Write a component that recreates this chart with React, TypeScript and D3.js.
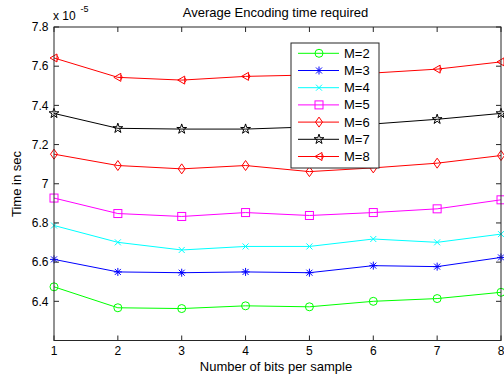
import React from "react";
import * as d3 from "d3";

const bits = [1, 2, 3, 4, 5, 6, 7, 8];
const seriesNames = ["M=2", "M=3", "M=4", "M=5", "M=6", "M=7", "M=8"];
const m2 = [6.474, 6.367, 6.363, 6.377, 6.372, 6.4, 6.414, 6.446];
const m3 = [6.614, 6.55, 6.546, 6.55, 6.546, 6.582, 6.577, 6.624];
const m4 = [6.787, 6.701, 6.662, 6.68, 6.68, 6.718, 6.701, 6.743];
const m5 = [6.927, 6.848, 6.833, 6.853, 6.838, 6.853, 6.872, 6.918];
const m6 = [7.151, 7.093, 7.076, 7.093, 7.062, 7.081, 7.105, 7.144];
const m7 = [7.359, 7.283, 7.279, 7.279, 7.29, 7.305, 7.329, 7.359];
const m8 = [7.642, 7.543, 7.529, 7.548, 7.555, 7.565, 7.585, 7.622];
const yTicks = [6.4, 6.6, 6.8, 7, 7.2, 7.4, 7.6, 7.8];
const colors = ["#00ff00", "#0000ff", "#00ffff", "#ff00ff", "#ff0000", "#000000", "#ff0000"];
const markers = ["circle", "asterisk", "x", "square", "diamond", "star", "tri"];
const allSeries = [m2, m3, m4, m5, m6, m7, m8];

const L = 54, R = 501, T = 27, B = 340.5;
const FONT = "Liberation Sans, Arial, sans-serif";

function Marker({ type, x, y, color }: { type: string; x: number; y: number; color: string }) {
  const sw = 1;
  if (type === "circle") return <circle cx={x} cy={y} r={4} fill="none" stroke={color} strokeWidth={sw} />;
  if (type === "square") return <rect x={x - 4} y={y - 4} width={8} height={8} fill="none" stroke={color} strokeWidth={sw} />;
  if (type === "diamond")
    return <path d={`M${x},${y - 5}L${x + 3.5},${y}L${x},${y + 5}L${x - 3.5},${y}Z`} fill="none" stroke={color} strokeWidth={sw} />;
  if (type === "x")
    return <path d={`M${x - 3},${y - 3}L${x + 3},${y + 3}M${x - 3},${y + 3}L${x + 3},${y - 3}`} stroke={color} strokeWidth={sw} />;
  if (type === "asterisk")
    return (
      <path
        d={`M${x},${y - 4}L${x},${y + 4}M${x - 4},${y}L${x + 4},${y}M${x - 3},${y - 3}L${x + 3},${y + 3}M${x - 3},${y + 3}L${x + 3},${y - 3}`}
        stroke={color}
        strokeWidth={sw}
      />
    );
  if (type === "star") {
    const sym = d3.symbol(d3.symbolStar, 30)();
    return <path d={sym || ""} transform={`translate(${x},${y})`} fill="none" stroke={color} strokeWidth={sw} />;
  }
  return (
    <g>
      <path d={`M${x - 4},${y}L${x + 3},${y - 4}L${x + 3},${y + 4}Z`} fill="none" stroke={color} strokeWidth={sw} />
      <path d={`M${x + 3},${y - 2.5}L${x + 4.5},${y}L${x + 3},${y + 2.5}`} fill="none" stroke={color} strokeWidth={sw} />
    </g>
  );
}

export default function App() {
  const x = d3.scaleLinear().domain([1, 8]).range([L, R]);
  const y = d3.scaleLinear().domain([6.2, 7.8]).range([B, T]);
  const line = d3
    .line<number>()
    .x((_, i) => x(bits[i]))
    .y((d) => y(d));

  const legX = 291, legY = 43, legW = 88, legH = 125;
  const rowY = (i: number) => 53.3 + i * 17.2;

  return (
    <svg
      width={504}
      height={379}
      style={{ position: "absolute", left: 0, top: 0, background: "#fff" }}
      fontFamily={FONT}
    >
      <rect x={0} y={0} width={504} height={379} fill="#fff" />
      {allSeries.map((s, si) => (
        <g key={si}>
          <path d={line(s) || ""} fill="none" stroke={colors[si]} strokeWidth={1} />
          {s.map((v, i) => (
            <Marker key={i} type={markers[si]} x={x(bits[i])} y={y(v)} color={colors[si]} />
          ))}
        </g>
      ))}
      <rect x={L} y={T} width={R - L} height={B - T} fill="none" stroke="#262626" strokeWidth={1} />
      {bits.map((b) => (
        <g key={b}>
          <line x1={x(b)} x2={x(b)} y1={B} y2={B - 5} stroke="#262626" />
          <line x1={x(b)} x2={x(b)} y1={T} y2={T + 5} stroke="#262626" />
          <text x={x(b)} y={354.5} textAnchor="middle" fontSize={12} fill="#000">
            {b}
          </text>
        </g>
      ))}
      {yTicks.map((t) => (
        <g key={t}>
          <line x1={L} x2={L + 5} y1={y(t)} y2={y(t)} stroke="#262626" />
          <line x1={R} x2={R - 5} y1={y(t)} y2={y(t)} stroke="#262626" />
          <text x={48.5} y={y(t) + 4.3} textAnchor="end" fontSize={12} fill="#000">
            {d3.format("")(t)}
          </text>
        </g>
      ))}
      <text x={53} y={20} fontSize={12} fill="#000">
        x 10
      </text>
      <text x={80.5} y={12} fontSize={9} fill="#000">
        -5
      </text>
      <text x={275.5} y={17} textAnchor="middle" fontSize={13} fill="#000">
        Average Encoding time required
      </text>
      <text x={276} y={370.5} textAnchor="middle" fontSize={13} fill="#000">
        Number of bits per sample
      </text>
      <text transform="translate(21,184) rotate(-90)" textAnchor="middle" fontSize={13} fill="#000">
        Time in sec
      </text>
      <rect x={legX} y={legY} width={legW} height={legH} fill="#fff" stroke="#262626" strokeWidth={1} />
      {seriesNames.map((n, i) => (
        <g key={n}>
          <line x1={298} x2={339} y1={rowY(i)} y2={rowY(i)} stroke={colors[i]} strokeWidth={1} />
          <Marker type={markers[i]} x={319} y={rowY(i)} color={colors[i]} />
          <text x={344} y={rowY(i) + 4.5} fontSize={13} fill="#000">
            {n}
          </text>
        </g>
      ))}
    </svg>
  );
}
